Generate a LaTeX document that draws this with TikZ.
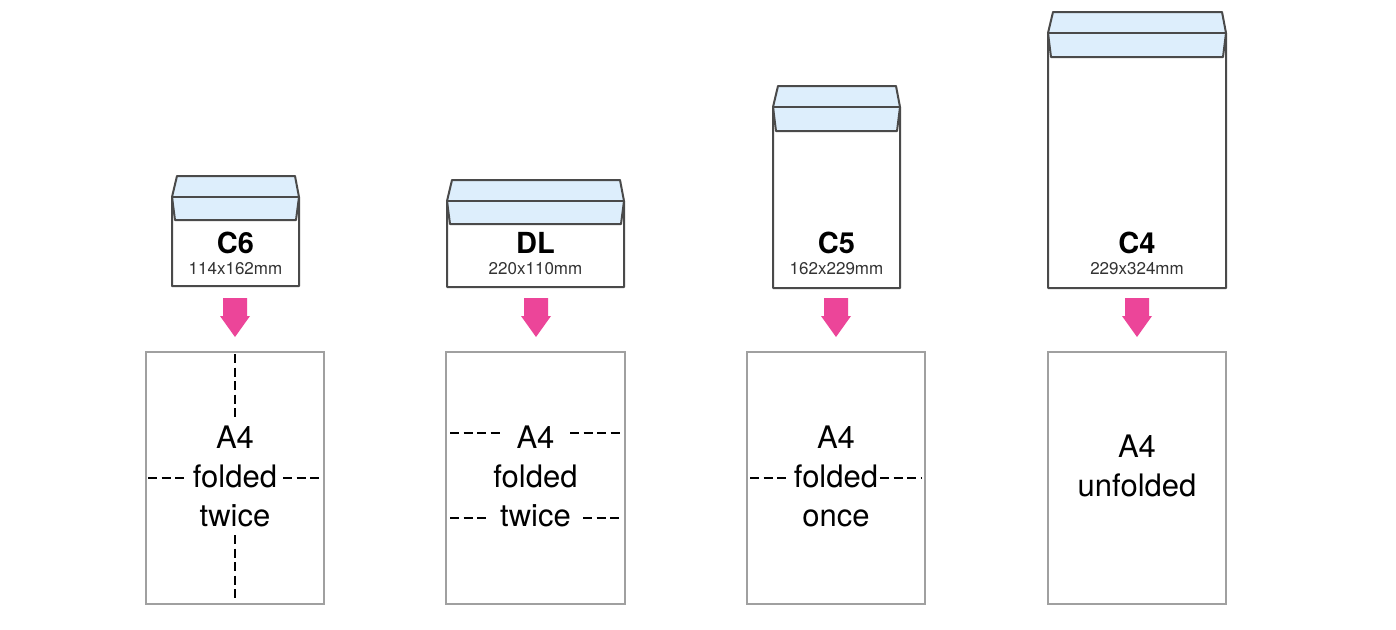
\documentclass[tikz,border=0pt]{standalone}
\usepackage{fontspec}
\setmainfont{TeX Gyre Heros}
\definecolor{envline}{HTML}{4A4A4A}
\definecolor{flapblue}{HTML}{DDEEFC}
\definecolor{paperline}{HTML}{A0A0A0}
\definecolor{arrowpink}{HTML}{EC4599}
\tikzset{
  envbody/.style={draw=envline, line width=2pt, line join=round},
  flapfill/.style={fill=flapblue},
  paperbox/.style={draw=paperline, line width=1.4pt, fill=white},
  foldline/.style={draw=black, line width=2pt, dash pattern=on 9pt off 4.5pt},
  sizename/.style={font=\fontsize{29}{32}\selectfont\bfseries, inner sep=0pt},
  sizemm/.style={font=\fontsize{17}{19}\selectfont, text=black!80, inner sep=0pt},
  papertext/.style={font=\fontsize{31}{39}\selectfont, align=center, inner sep=0pt},
  pinkarrow/.style={fill=arrowpink, draw=none}
}
\newcommand{\Envelope}[7]{% name, left, right, top, line, flapbottom, bottom
  \fill[flapfill] (#2+5,#4) -- (#3-4,#4) -- (#3,#5) -- (#3-3,#6) -- (#2+3,#6) -- (#2,#5) -- cycle;
  \draw[envbody] (#2,#5) -- (#2+5,#4) -- (#3-4,#4) -- (#3,#5) -- (#3,#7) -- (#2,#7) -- cycle;
  \draw[envbody] (#2,#5) -- (#3,#5);
  \draw[envbody] (#2,#5) -- (#2+3,#6) -- (#3-3,#6) -- (#3,#5);
  \coordinate (#1) at ({(#2+#3)/2},#7);
}
\newcommand{\PinkArrow}[2]{% name, center x
  \fill[pinkarrow] (#2-12,298) -- (#2+12,298) -- (#2+12,316) -- (#2+15,316) -- (#2,337) -- (#2-15,316) -- (#2-12,316) -- cycle;
  \coordinate (#1) at (#2,337);
}
\begin{document}
\begin{tikzpicture}[x=1pt,y=-1pt]
\useasboundingbox (0,0) rectangle (1396,629);
\fill[white] (0,0) rectangle (1396,629);

% envelopes
\Envelope{envC6}{172}{299}{176}{197}{220}{286}
\node[sizename] (nC6) at (235.5,243) {C6};
\node[sizemm] (mC6) at (235.5,269) {114x162mm};

\Envelope{envDL}{447}{624}{180}{201}{224}{287}
\node[sizename] (nDL) at (535.5,243) {DL};
\node[sizemm] (mDL) at (535.5,269) {220x110mm};

\Envelope{envC5}{773}{900}{86}{107}{131}{288}
\node[sizename] (nC5) at (836.5,243) {C5};
\node[sizemm] (mC5) at (836.5,269) {162x229mm};

\Envelope{envC4}{1048}{1226}{12}{33}{57}{288}
\node[sizename] (nC4) at (1137,243) {C4};
\node[sizemm] (mC4) at (1137,269) {229x324mm};

% arrows
\PinkArrow{aC6}{235}
\PinkArrow{aDL}{536}
\PinkArrow{aC5}{836}
\PinkArrow{aC4}{1137}

% papers
\draw[paperbox] (146,352) rectangle (324,604);
\node (pC6) at (235,478) {};
\draw[foldline] (235,354) -- (235,421);
\draw[foldline] (235,535) -- (235,602);
\draw[foldline] (148,478) -- (186,478);
\draw[foldline] (283,478) -- (322,478);
\node[papertext] (tC6) at (235,476) {A4\\folded\\twice};

\draw[paperbox] (446,352) rectangle (625,604);
\node (pDL) at (535.5,478) {};
\draw[foldline] (450,433) -- (501,433);
\draw[foldline] (570,433) -- (621,433);
\draw[foldline] (450,518) -- (488,518);
\draw[foldline] (583,518) -- (621,518);
\node[papertext] (tDL) at (535.5,476) {A4\\folded\\twice};

\draw[paperbox] (747,352) rectangle (925,604);
\node (pC5) at (836,478) {};
\draw[foldline] (750,478) -- (790,478);
\draw[foldline] (880,478) -- (922,478);
\node[papertext] (tC5) at (836,476) {A4\\folded\\once};

\draw[paperbox] (1048,352) rectangle (1226,604);
\node (pC4) at (1137,478) {};
\node[papertext] (tC4) at (1137,466) {A4\\unfolded};
\end{tikzpicture}
\end{document}
